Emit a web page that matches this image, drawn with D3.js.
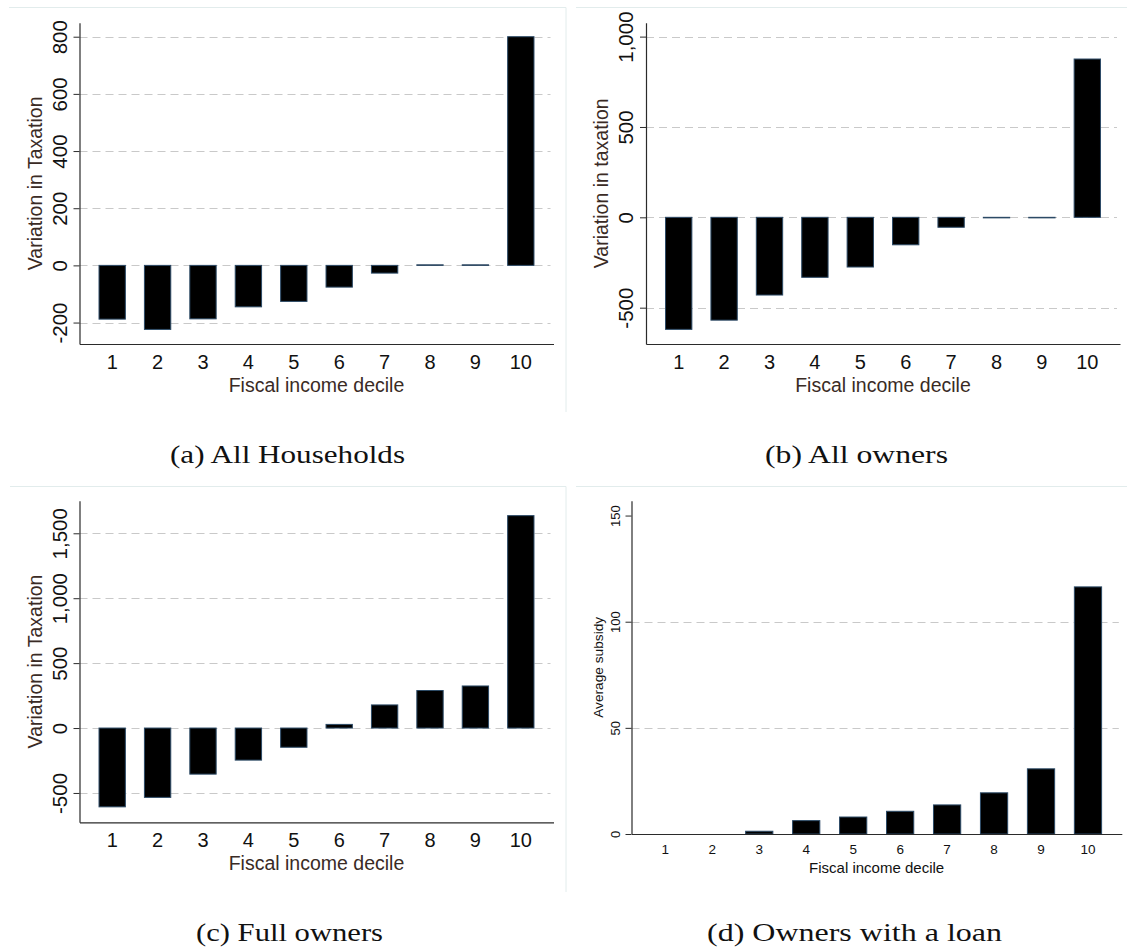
<!doctype html>
<html>
<head>
<meta charset="utf-8">
<script src="https://d3js.org/d3.v7.min.js"></script>
<style>
  body { margin: 0; background: #fff; }
  svg { display: block; }
</style>
</head>
<body>
<div id="chart"></div>
<script>
// deciles on the x axis (same for every panel)
var deciles = ["1", "2", "3", "4", "5", "6", "7", "8", "9", "10"];

// bar values
var allHouseholds = [-188, -224, -187, -145, -126, -76, -27, 2, 2, 800];
var allOwners     = [-620, -569, -430, -332, -275, -152, -55, -3, -3, 876];
var fullOwners    = [-607, -534, -355, -247, -148, 28, 178, 289, 324, 1636];
var loanOwners    = [0, 0, 1.3, 6.3, 8.0, 10.7, 13.7, 19.4, 30.7, 116.4];

// y ticks and their labels
var ticksA  = [-200, 0, 200, 400, 600, 800];
var labelsA = ["-200", "0", "200", "400", "600", "800"];
var ticksB  = [-500, 0, 500, 1000];
var labelsB = ["-500", "0", "500", "1,000"];
var ticksC  = [-500, 0, 500, 1000, 1500];
var labelsC = ["-500", "0", "500", "1,000", "1,500"];
var ticksD  = [0, 50, 100, 150];
var labelsD = ["0", "50", "100", "150"];
var gridD   = [50, 100];

var yTitles  = ["Variation in Taxation", "Variation in taxation", "Variation in Taxation", "Average subsidy"];
var xTitle   = "Fiscal income decile";
var captions = ["(a) All Households", "(b) All owners", "(c) Full owners", "(d) Owners with a loan"];

var W = 1127, H = 952;
var sans = "'Liberation Sans', Arial, Helvetica, sans-serif";

var svg = d3.select("#chart").append("svg")
    .attr("width", W)
    .attr("height", H);

// faint frames around the sub-figures
var frame = svg.append("g").attr("stroke", "#e2ecec").attr("stroke-width", 1).attr("fill", "none");
frame.append("line").attr("x1", 9).attr("x2", 566).attr("y1", 7.5).attr("y2", 7.5);
frame.append("line").attr("x1", 566).attr("x2", 566).attr("y1", 7.5).attr("y2", 412);
frame.append("line").attr("x1", 576).attr("x2", 1127).attr("y1", 7.5).attr("y2", 7.5);
frame.append("line").attr("x1", 10).attr("x2", 566).attr("y1", 486.5).attr("y2", 486.5);
frame.append("line").attr("x1", 566).attr("x2", 566).attr("y1", 486.5).attr("y2", 892);
frame.append("line").attr("x1", 576).attr("x2", 1127).attr("y1", 486.5).attr("y2", 486.5);

var panels = [
  { values: allHouseholds, ticks: ticksA, labels: labelsA, grid: ticksA, yTitle: yTitles[0],
    left: 79.5, right: 553.5, top: 22.7, bottom: 344, yDomain: [-275, 849], big: true },
  { values: allOwners, ticks: ticksB, labels: labelsB, grid: ticksB, yTitle: yTitles[1],
    left: 646, right: 1120, top: 22.7, bottom: 344, yDomain: [-701, 1077], big: true },
  { values: fullOwners, ticks: ticksC, labels: labelsC, grid: ticksC, yTitle: yTitles[2],
    left: 79.5, right: 553.5, top: 500.7, bottom: 822.3, yDomain: [-726, 1751], big: true },
  { values: loanOwners, ticks: ticksD, labels: labelsD, grid: gridD, yTitle: yTitles[3],
    left: 631.5, right: 1121.8, top: 500.7, bottom: 834, yDomain: [0, 157], big: false }
];

panels.forEach(function(p) {
  var x = d3.scaleBand()
      .domain(deciles)
      .range([p.left, p.right])
      .paddingInner(0.42)
      .paddingOuter(0.43);
  var y = d3.scaleLinear()
      .domain(p.yDomain)
      .range([p.bottom, p.top]);

  var g = svg.append("g");

  // dashed gridlines
  g.append("g").selectAll("line")
    .data(p.grid)
    .enter().append("line")
      .attr("x1", p.left)
      .attr("x2", p.right - 3)
      .attr("y1", function(d) { return Math.round(y(d)) + 0.5; })
      .attr("y2", function(d) { return Math.round(y(d)) + 0.5; })
      .attr("stroke", "#c9c9c9")
      .attr("stroke-width", 1.2)
      .attr("stroke-dasharray", "8,5");

  // bars
  g.append("g").selectAll("rect")
    .data(p.values)
    .enter().append("rect")
      .attr("x", function(d, i) { return x(deciles[i]); })
      .attr("width", x.bandwidth())
      .attr("y", function(d) { return y(Math.max(0, d)); })
      .attr("height", function(d) { return Math.abs(y(d) - y(0)); })
      .attr("fill", "#000")
      .attr("stroke", "#2c4a66")
      .attr("stroke-width", 1);

  var tickFont = p.big ? 20 : 13.5;
  var titleFont = p.big ? 19.5 : 15;
  var titleColor = p.big ? "#3a2b25" : "#111";

  // y axis
  var yAxis = g.append("g")
      .attr("transform", "translate(" + p.left + ",0)")
      .call(d3.axisLeft(y)
        .tickValues(p.ticks)
        .tickFormat(function(d, i) { return p.labels[i]; })
        .tickSize(6)
        .tickSizeOuter(0));
  yAxis.select(".domain").attr("stroke", "#2b2b2b").attr("stroke-width", 1.2);
  yAxis.selectAll(".tick line").attr("stroke", "#2b2b2b").attr("stroke-width", 1);
  yAxis.selectAll(".tick text")
      .attr("transform", "rotate(-90)")
      .attr("x", 0)
      .attr("y", p.big ? -13 : -12)
      .attr("dy", 0)
      .attr("text-anchor", "middle")
      .attr("fill", "#111")
      .style("font-family", sans)
      .style("font-size", (p.big ? 20.5 : 13) + "px");

  // x axis
  var xAxis = g.append("g")
      .attr("transform", "translate(0," + p.bottom + ")")
      .call(d3.axisBottom(x).tickSize(0).tickSizeOuter(0));
  xAxis.select(".domain").attr("stroke", "#2b2b2b").attr("stroke-width", 1.2);
  xAxis.selectAll(".tick text")
      .attr("y", p.big ? 25 : 20)
      .attr("dy", 0)
      .attr("fill", "#111")
      .style("font-family", sans)
      .style("font-size", tickFont + "px");

  // axis titles
  g.append("text")
      .attr("x", (p.left + p.right) / 2)
      .attr("y", p.bottom + (p.big ? 48 : 39))
      .attr("text-anchor", "middle")
      .attr("fill", titleColor)
      .style("font-family", sans)
      .style("font-size", titleFont + "px")
      .text(xTitle);

  g.append("text")
      .attr("transform", "translate(" + (p.left - (p.big ? 38 : 28.5)) + "," + ((p.top + p.bottom) / 2) + ") rotate(-90)")
      .attr("text-anchor", "middle")
      .attr("fill", titleColor)
      .style("font-family", sans)
      .style("font-size", (p.big ? 19.5 : 13.7) + "px")
      .text(p.yTitle);
});

// sub-figure captions
var capPos = [
  { cx: 287.5, base: 463, w: 235 },
  { cx: 856.5, base: 463, w: 183 },
  { cx: 289.5, base: 941, w: 187 },
  { cx: 854.5, base: 941, w: 295 }
];
svg.append("g").selectAll("text")
  .data(captions)
  .enter().append("text")
    .attr("x", function(d, i) { return capPos[i].cx - capPos[i].w / 2; })
    .attr("y", function(d, i) { return capPos[i].base; })
    .attr("textLength", function(d, i) { return capPos[i].w; })
    .attr("lengthAdjust", "spacingAndGlyphs")
    .attr("fill", "#111")
    .style("font-family", "'Liberation Serif', 'Times New Roman', serif")
    .style("font-size", "25px")
    .text(function(d) { return d; });
</script>
</body>
</html>
